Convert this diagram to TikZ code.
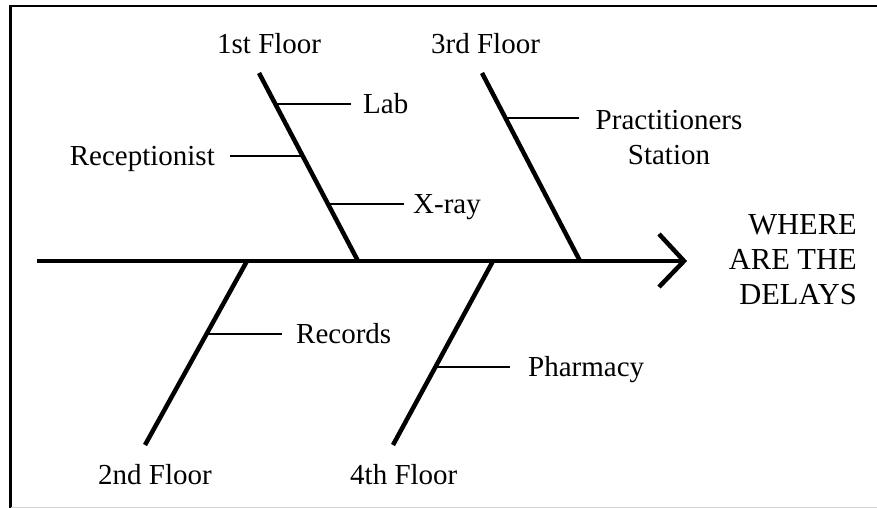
\documentclass[tikz,border=0pt]{standalone}
\usepackage{fontspec}
\setmainfont{Liberation Serif}
\usetikzlibrary{calc}
\begin{document}
\begin{tikzpicture}[x=1pt,y=-1pt,
  frame/.style={line width=2.6pt},
  spine/.style={line width=4pt},
  bone/.style={line width=4.5pt},
  twig/.style={line width=1.8pt},
  lbl/.style={inner sep=0pt, font=\fontsize{29}{35}\selectfont},
  lines/.style={lbl, align=center}]
\useasboundingbox (0,0) rectangle (877,508);
% frame
\draw[frame] (10.5,508) -- (10.5,6) -- (877,6);
\draw[gray!35, line width=1.2pt] (10.5,507.4) -- (877,507.4);
% spine and head
\coordinate (tail) at (37,261);
\coordinate (tip) at (684,261);
\draw[spine] (tail) -- (tip);
\draw[bone, line join=miter] ($(tip)+(-25,-27)$) -- (tip) -- ($(tip)+(-25,26)$);
\node[lbl, anchor=east, align=right, font=\fontsize{30.5}{35}\selectfont] (effect) at (857,260) {WHERE\\ARE THE\\DELAYS};
% bones
\coordinate (b1top) at (259,73);  \coordinate (b1bot) at (358,261);
\coordinate (b3top) at (482,73);  \coordinate (b3bot) at (580,261);
\coordinate (b2top) at (247,261); \coordinate (b2bot) at (145,445);
\coordinate (b4top) at (493,261); \coordinate (b4bot) at (393,445);
\draw[bone] (b1top) -- (b1bot);
\draw[bone] (b3top) -- (b3bot);
\draw[bone] (b2top) -- (b2bot);
\draw[bone] (b4top) -- (b4bot);
% floor labels
\node[lbl, anchor=base west] (f1) at (217,54) {1st Floor};
\node[lbl, anchor=base west] (f3) at (431,54) {3rd Floor};
\node[lbl, anchor=base west] (f2) at (98,484) {2nd Floor};
\node[lbl, anchor=base west] (f4) at (350,484) {4th Floor};
% branch points
\coordinate (pLab) at ($(b1top)!0.165!(b1bot)$);
\coordinate (pRec) at ($(b1top)!0.441!(b1bot)$);
\coordinate (pXr)  at ($(b1top)!0.697!(b1bot)$);
\coordinate (pPr)  at ($(b3top)!0.239!(b3bot)$);
\coordinate (pRcd) at ($(b2top)!0.397!(b2bot)$);
\coordinate (pPh)  at ($(b4top)!0.576!(b4bot)$);
% cause labels
\node[lbl, anchor=base west] (lab) at (363,113.5) {Lab};
\node[lbl, anchor=base east] (rec) at (215,165.5) {Receptionist};
\node[lbl, anchor=base west] (xray) at (413,213.5) {X-ray};
\node[lines] (prac) at (669,137.5) {Practitioners\\Station};
\node[lbl, anchor=base west] (recs) at (296,343.5) {Records};
\node[lbl, anchor=base west] (pharm) at (528,376.5) {Pharmacy};
% twigs
\draw[twig] (pLab) -- ($(pLab -| lab.west)+(-12,0)$);
\draw[twig] (pRec) -- ($(pRec -| rec.east)+(15,0)$);
\draw[twig] (pXr) -- ($(pXr -| xray.west)+(-9,0)$);
\draw[twig] (pPr) -- ($(pPr -| prac.west)+(-17,0)$);
\draw[twig] (pRcd) -- ($(pRcd -| recs.west)+(-14,0)$);
\draw[twig] (pPh) -- ($(pPh -| pharm.west)+(-18,0)$);
\end{tikzpicture}
\end{document}
